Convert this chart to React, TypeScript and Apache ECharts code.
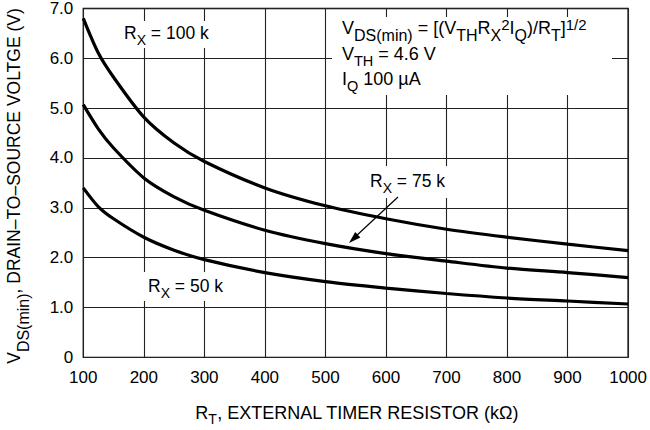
import React, { useEffect, useRef } from "react";
import * as echarts from "echarts";

const rtValues = [100, 125, 150, 200, 250, 300, 400, 500, 600, 700, 800, 900, 1000];
const rx100 = [6.8, 6.1, 5.62, 4.82, 4.3, 3.93, 3.4, 3.04, 2.78, 2.57, 2.41, 2.27, 2.14];
const rx75 = [5.07, 4.58, 4.2, 3.6, 3.22, 2.95, 2.55, 2.28, 2.08, 1.93, 1.79, 1.7, 1.6];
const rx50 = [3.4, 3.02, 2.78, 2.41, 2.15, 1.96, 1.7, 1.52, 1.39, 1.28, 1.19, 1.13, 1.07];

const FONT = "'Liberation Sans', Arial, sans-serif";

// Build a rich-text style map: base size B, subscript size S shifted d px below cap top,
// superscript size P shifted u px (negative = up).
function makeRich(B: number, S: number, d: number, P = 0, u = 0, basePad = 0) {
  const L = B + 2;
  const capTop = basePad + L / 2 - 0.366 * B;
  const tok = (size: number, lh: number, pad: number) => ({
    fontSize: size,
    lineHeight: lh,
    verticalAlign: "top",
    padding: [Math.max(0, pad), 0, 0, 0],
    fontFamily: FONT,
    color: "#000",
  });
  const rich: any = {
    b: tok(B, L, basePad),
    s: tok(S, S, capTop + d - 0.134 * S),
  };
  if (P) rich.p = tok(P, P, capTop + u - 0.134 * P);
  return { rich, capTop };
}

const annRich = makeRich(17.5, 14, 8);
const formula1Rich = makeRich(18, 16, 7.5, 15, -3, 3);
const formula2Rich = makeRich(18, 14.5, 7, 0, 0, 3);
const yTitleRich = makeRich(17.5, 16, 10);
const xTitleRich = makeRich(18, 14, 7);

function label(text: string, x: number, capTopY: number, r: any) {
  return {
    type: "text",
    x,
    y: capTopY - r.capTop,
    z: 10,
    style: {
      text,
      rich: r.rich,
      fill: "#000",
      align: "left",
      verticalAlign: "top",
    },
  };
}

function whiteRect(x: number, y: number, w: number, h: number) {
  return { type: "rect", z: 5, shape: { x, y, width: w, height: h }, style: { fill: "#fff" } };
}

export default function App() {
  const ref = useRef<HTMLDivElement>(null);
  useEffect(() => {
    const chart = echarts.init(ref.current!, undefined, { renderer: "svg" });
    const mk = (data: number[]) => ({
      type: "line",
      smooth: 0.3,
      showSymbol: false,
      symbol: "none",
      lineStyle: { color: "#000", width: 3.2 },
      data: rtValues.map((x, i) => [x, data[i]]),
      z: 20,
    });
    chart.setOption({
      animation: false,
      backgroundColor: "#fff",
      grid: {
        left: 83.3,
        right: 20.4,
        top: 6.7,
        bottom: 72.7,
        show: true,
        borderColor: "#000",
        borderWidth: 1.3,
        containLabel: false,
      },
      xAxis: {
        type: "value",
        min: 100,
        max: 1000,
        interval: 100,
        axisLine: { show: false },
        axisTick: { show: false },
        splitLine: { show: true, lineStyle: { color: "#222", width: 1.1 } },
        axisLabel: {
          color: "#000",
          fontSize: 17,
          fontFamily: FONT,
          margin: 12,
          formatter: (v: number) => String(v),
        },
      },
      yAxis: {
        type: "value",
        min: 0,
        max: 7,
        interval: 1,
        axisLine: { show: false },
        axisTick: { show: false },
        splitLine: { show: true, lineStyle: { color: "#222", width: 1.1 } },
        axisLabel: {
          color: "#000",
          fontSize: 17,
          fontFamily: FONT,
          margin: 10,
          formatter: (v: number) => (v === 0 ? "0" : v.toFixed(1)),
        },
      },
      series: [mk(rx100), mk(rx75), mk(rx50)],
      graphic: [
        whiteRect(118, 21, 98, 27),
        whiteRect(332, 17, 280, 78),
        whiteRect(364, 166, 88, 32),
        whiteRect(140, 272, 95, 29),
        label("{b|R}{s|X}{b| = 100 k}", 124, 27, annRich),
        label("{b|V}{s|DS(min)}{b| = [(V}{s|TH}{b|R}{s|X}{p|2}{b|I}{s|Q}{b|)/R}{s|T}{b|]}{p|1/2}", 342, 22.5, formula1Rich),
        label("{b|V}{s|TH}{b| = 4.6 V}", 342, 48.5, formula2Rich),
        label("{b|I}{s|Q}{b| 100 µA}", 342, 73.5, formula2Rich),
        label("{b|R}{s|X}{b| = 75 k}", 370, 175, annRich),
        label("{b|R}{s|X}{b| = 50 k}", 148, 280, annRich),
        {
          type: "line",
          z: 10,
          shape: { x1: 398, y1: 197, x2: 355, y2: 237 },
          style: { stroke: "#000", lineWidth: 1.2 },
        },
        {
          type: "polygon",
          z: 10,
          shape: { points: [[349, 243], [360.4, 237.6], [355.2, 232.0]] },
          style: { fill: "#000" },
        },
        {
          type: "text",
          z: 10,
          x: 8 - yTitleRich.capTop,
          y: 186,
          rotation: Math.PI / 2,
          style: {
            text: "{b|V}{s|DS(min)}{b|, DRAIN–TO–SOURCE VOLTGE (V)}",
            rich: yTitleRich.rich,
            align: "center",
            verticalAlign: "top",
            fill: "#000",
          },
        },
        {
          type: "text",
          z: 10,
          x: 357,
          y: 407 - xTitleRich.capTop,
          style: {
            text: "{b|R}{s|T}{b|, EXTERNAL TIMER RESISTOR (kΩ)}",
            rich: xTitleRich.rich,
            align: "center",
            verticalAlign: "top",
            fill: "#000",
          },
        },
      ],
    });
    return () => chart.dispose();
  }, []);
  return <div ref={ref} style={{ position: "absolute", left: 0, top: 0, width: 650, height: 430 }} />;
}
